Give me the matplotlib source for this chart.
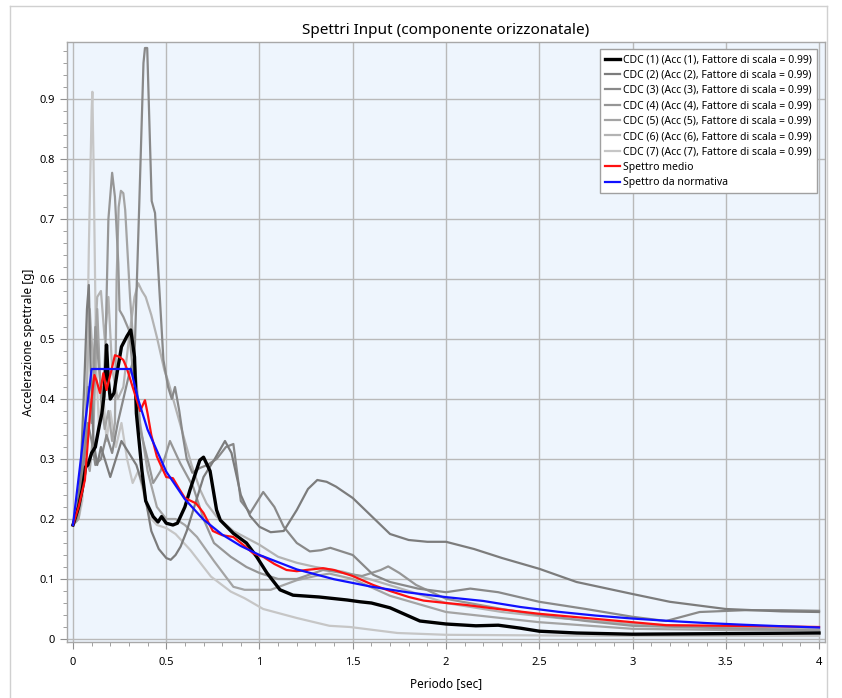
import matplotlib
matplotlib.use("Agg")
import matplotlib.pyplot as plt
from matplotlib.ticker import MultipleLocator
from matplotlib.lines import Line2D

# periods [sec] and spectral accelerations [g]
t1 = [0, 0.03, 0.05, 0.068, 0.08, 0.1, 0.12, 0.14, 0.155, 0.166, 0.175, 0.18, 0.19, 0.2, 0.22, 0.24,
      0.26, 0.29, 0.31, 0.33, 0.34, 0.37, 0.39, 0.43, 0.456, 0.475, 0.5, 0.536, 0.56, 0.6, 0.627, 0.68,
      0.7, 0.735, 0.77, 0.79, 0.86, 0.93, 0.985, 1.04, 1.11, 1.18, 1.32, 1.47, 1.54, 1.6, 1.7, 1.86,
      2.0, 2.16, 2.28, 2.4, 2.5, 2.7, 3.0, 3.5, 4.0]
s1 = [0.19, 0.22, 0.25, 0.287, 0.29, 0.31, 0.32, 0.354, 0.376, 0.404, 0.45, 0.49, 0.43, 0.40, 0.41, 0.45,
      0.487, 0.505, 0.515, 0.47, 0.376, 0.28, 0.23, 0.204, 0.195, 0.204, 0.193, 0.19, 0.193, 0.22, 0.248, 0.298,
      0.303, 0.28, 0.215, 0.198, 0.176, 0.16, 0.137, 0.11, 0.082, 0.073, 0.07, 0.065, 0.062, 0.06, 0.052, 0.03,
      0.025, 0.022, 0.023, 0.018, 0.013, 0.01, 0.008, 0.009, 0.01]

t2 = [0, 0.02, 0.04, 0.06, 0.075, 0.085, 0.095, 0.11, 0.13, 0.15, 0.17, 0.2, 0.23, 0.26, 0.3, 0.34,
      0.38, 0.42, 0.46, 0.5, 0.524, 0.55, 0.577, 0.61, 0.65, 0.7, 0.76, 0.815, 0.85, 0.9, 0.95, 1.0,
      1.06, 1.13, 1.2, 1.26, 1.31, 1.36, 1.41, 1.5, 1.6, 1.7, 1.8, 1.9, 2.0, 2.15, 2.3, 2.5, 2.7, 3.0,
      3.2, 3.5, 3.8, 4.0]
s2 = [0.19, 0.21, 0.27, 0.42, 0.55, 0.59, 0.45, 0.33, 0.29, 0.32, 0.30, 0.27, 0.30, 0.33, 0.31, 0.29,
      0.25, 0.18, 0.15, 0.135, 0.132, 0.14, 0.154, 0.18, 0.22, 0.27, 0.30, 0.33, 0.31, 0.24, 0.205, 0.187,
      0.178, 0.18, 0.215, 0.25, 0.265, 0.262, 0.254, 0.235, 0.205, 0.175, 0.165, 0.162, 0.162, 0.15, 0.135,
      0.117, 0.095, 0.075, 0.062, 0.05, 0.046, 0.045]

t3 = [0, 0.02, 0.04, 0.06, 0.08, 0.1, 0.12, 0.15, 0.18, 0.21, 0.24, 0.27, 0.3, 0.33, 0.355, 0.378,
      0.386, 0.398, 0.422, 0.44, 0.46, 0.485, 0.51, 0.53, 0.547, 0.57, 0.59, 0.61, 0.64, 0.68, 0.72, 0.77,
      0.82, 0.86, 0.9, 0.95, 1.02, 1.08, 1.13, 1.2, 1.27, 1.33, 1.38, 1.45, 1.5, 1.61, 1.7, 1.85, 2.0,
      2.13, 2.28, 2.5, 2.75, 3.0, 3.18, 3.36, 3.6, 3.8, 4.0]
s3 = [0.19, 0.2, 0.24, 0.3, 0.36, 0.33, 0.29, 0.3, 0.34, 0.31, 0.36, 0.40, 0.44, 0.47, 0.72, 0.96,
      0.985, 0.985, 0.73, 0.71, 0.60, 0.465, 0.42, 0.40, 0.42, 0.38, 0.337, 0.30, 0.277, 0.285, 0.29, 0.30,
      0.32, 0.325, 0.23, 0.21, 0.245, 0.22, 0.187, 0.16, 0.146, 0.148, 0.152, 0.145, 0.14, 0.107, 0.095,
      0.084, 0.078, 0.084, 0.078, 0.062, 0.05, 0.037, 0.03, 0.045, 0.048, 0.048, 0.047]

t4 = [0, 0.03, 0.06, 0.08, 0.1, 0.12, 0.14, 0.16, 0.175, 0.19, 0.21, 0.225, 0.243, 0.25, 0.27, 0.3,
      0.327, 0.36, 0.4, 0.43, 0.47, 0.52, 0.575, 0.645, 0.7, 0.756, 0.846, 0.93, 1.0, 1.1, 1.2, 1.34,
      1.45, 1.55, 1.65, 1.69, 1.75, 1.84, 2.0, 2.3, 2.5, 2.75, 3.0, 3.5, 4.0]
s4 = [0.19, 0.22, 0.32, 0.42, 0.36, 0.52, 0.45, 0.38, 0.5, 0.7, 0.777, 0.737, 0.626, 0.548, 0.537, 0.515,
      0.43, 0.35, 0.30, 0.26, 0.28, 0.33, 0.293, 0.253, 0.2, 0.16, 0.137, 0.12, 0.11, 0.10, 0.10, 0.115,
      0.11, 0.105, 0.115, 0.121, 0.11, 0.09, 0.067, 0.05, 0.04, 0.03, 0.022, 0.018, 0.014]

t5 = [0, 0.03, 0.05, 0.07, 0.09, 0.11, 0.13, 0.15, 0.17, 0.19, 0.21, 0.225, 0.234, 0.245, 0.257, 0.27,
      0.28, 0.306, 0.33, 0.36, 0.4, 0.45, 0.5, 0.55, 0.6, 0.665, 0.756, 0.86, 0.92, 1.06, 1.2, 1.3, 1.375,
      1.5, 1.7, 2.0, 2.5, 3.0, 3.5, 4.0]
s5 = [0.19, 0.2, 0.25, 0.3, 0.28, 0.35, 0.55, 0.4, 0.35, 0.38, 0.33, 0.36, 0.6, 0.72, 0.747, 0.743,
      0.715, 0.57, 0.465, 0.36, 0.28, 0.22, 0.2, 0.2, 0.19, 0.17, 0.13, 0.087, 0.082, 0.082, 0.098, 0.105, 0.109,
      0.10, 0.072, 0.045, 0.028, 0.017, 0.015, 0.015]

t6 = [0, 0.03, 0.05, 0.07, 0.09, 0.11, 0.13, 0.15, 0.17, 0.19, 0.21, 0.24, 0.27, 0.3, 0.33, 0.35,
      0.37, 0.39, 0.42, 0.45, 0.49, 0.51, 0.6, 0.636, 0.68, 0.716, 0.77, 0.86, 1.0, 1.1, 1.2, 1.3, 1.45,
      1.61, 1.8, 2.0, 2.3, 2.6, 3.0, 3.5, 4.0]
s6 = [0.19, 0.21, 0.26, 0.38, 0.55, 0.45, 0.57, 0.58, 0.5, 0.57, 0.45, 0.4, 0.42, 0.5, 0.57, 0.593,
      0.58, 0.57, 0.54, 0.503, 0.448, 0.43, 0.33, 0.29, 0.25, 0.226, 0.204, 0.18, 0.157, 0.137, 0.127, 0.12,
      0.112, 0.098, 0.08, 0.06, 0.045, 0.035, 0.025, 0.02, 0.016]

t7 = [0, 0.03, 0.05, 0.07, 0.085, 0.1, 0.104, 0.11, 0.125, 0.14, 0.16, 0.18, 0.2, 0.23, 0.26, 0.29,
      0.32, 0.35, 0.375, 0.41, 0.45, 0.5, 0.55, 0.63, 0.7, 0.74, 0.846, 0.92, 1.02, 1.2, 1.375, 1.485,
      1.74, 2.0, 2.5, 3.0, 4.0]
s7 = [0.19, 0.2, 0.23, 0.35, 0.65, 0.88, 0.912, 0.8, 0.45, 0.35, 0.42, 0.33, 0.38, 0.32, 0.36, 0.30,
      0.26, 0.28, 0.248, 0.204, 0.19, 0.185, 0.175, 0.148, 0.12, 0.104, 0.079, 0.068, 0.05, 0.035, 0.022, 0.02,
      0.01, 0.007, 0.006, 0.005, 0.005]

t_mean = [0, 0.03, 0.064, 0.09, 0.105, 0.115, 0.127, 0.145, 0.163, 0.18, 0.2, 0.225, 0.25, 0.27, 0.29,
          0.31, 0.33, 0.36, 0.386, 0.4, 0.42, 0.45, 0.5, 0.536, 0.57, 0.6, 0.66, 0.7, 0.75, 0.8, 0.86, 0.92,
          0.965, 1.02, 1.08, 1.145, 1.2, 1.25, 1.34, 1.4, 1.5, 1.61, 1.7, 1.8, 1.88, 2.0, 2.1, 2.28, 2.5,
          2.75, 3.0, 3.18, 3.5, 3.8, 4.0]
s_mean = [0.19, 0.22, 0.265, 0.37, 0.415, 0.44, 0.43, 0.41, 0.443, 0.415, 0.44, 0.473, 0.47, 0.465, 0.45,
          0.43, 0.41, 0.38, 0.398, 0.376, 0.34, 0.304, 0.27, 0.268, 0.25, 0.235, 0.226, 0.21, 0.18, 0.173, 0.17,
          0.155, 0.143, 0.137, 0.125, 0.115, 0.113, 0.115, 0.118, 0.115, 0.105, 0.09, 0.08, 0.07, 0.064, 0.06,
          0.057, 0.05, 0.042, 0.035, 0.028, 0.023, 0.022, 0.021, 0.02]

t_norm = [0, 0.1, 0.31, 0.35, 0.4, 0.5, 0.6, 0.7, 0.8, 0.9, 1.0, 1.2, 1.4, 1.6, 1.8, 2.0, 2.2, 2.4,
          2.6, 2.8, 3.0, 3.2, 3.4, 3.6, 3.8, 4.0]
s_norm = [0.19, 0.45, 0.45, 0.399, 0.349, 0.279, 0.233, 0.199, 0.174, 0.155, 0.14, 0.116, 0.0996, 0.0872,
          0.0775, 0.0698, 0.0634, 0.0533, 0.0454, 0.0391, 0.0341, 0.030, 0.0265, 0.0237, 0.0213, 0.0192]

labels = ["CDC (%d) (Acc (%d), Fattore di scala = 0.99)" % (i, i) for i in range(1, 8)]
x_ticks = [0, 0.5, 1, 1.5, 2, 2.5, 3, 3.5, 4]
x_ticklabels = ["0", "0.5", "1", "1.5", "2", "2.5", "3", "3.5", "4"]
y_ticks = [0, 0.1, 0.2, 0.3, 0.4, 0.5, 0.6, 0.7, 0.8, 0.9]
y_ticklabels = ["0", "0.1", "0.2", "0.3", "0.4", "0.5", "0.6", "0.7", "0.8", "0.9"]

plt.rcParams['font.family'] = ['Noto Sans', 'DejaVu Sans']

W, H = 842, 698
fig = plt.figure(figsize=(W / 100, H / 100), dpi=100)
fig.patch.set_facecolor('white')

# axes box in pixel units of the reference
left, right, top, bottom = 67, 825, 42, 642
ax = fig.add_axes([left / W, 1 - bottom / H, (right - left) / W, (bottom - top) / H])
ax.set_facecolor('#eef5fd')

grays = ['#000000', '#7c7c7c', '#898989', '#969696', '#a4a4a4', '#b3b3b3', '#c6c6c6']
series = [(t1, s1), (t2, s2), (t3, s3), (t4, s4), (t5, s5), (t6, s6), (t7, s7)]
handles = []
for i in range(6, -1, -1):
    t, s = series[i]
    lw = 2.4 if i == 0 else 1.6
    ax.plot(t, s, color=grays[i], lw=lw, zorder=3 + (7 - i) * 0.1, solid_joinstyle='round')
for i in range(7):
    handles.append(Line2D([], [], color=grays[i], lw=2.4 if i == 0 else 1.6))
ax.plot(t_mean, s_mean, color='#ff1010', lw=1.6, zorder=5)
ax.plot(t_norm, s_norm, color='#1010ff', lw=1.6, zorder=6)
handles.append(Line2D([], [], color='#ff1010', lw=1.6))
handles.append(Line2D([], [], color='#1010ff', lw=1.6))

ax.set_xlim(-0.032, 4.032)
ax.set_ylim(-0.005, 0.995)
ax.set_xticks(x_ticks)
ax.set_xticklabels(x_ticklabels)
ax.set_yticks(y_ticks)
ax.set_yticklabels(y_ticklabels)
ax.xaxis.set_minor_locator(MultipleLocator(0.1))
ax.yaxis.set_minor_locator(MultipleLocator(0.02))
ax.grid(True, which='major', color='#b9b9b9', lw=1.0, zorder=1)
ax.set_axisbelow(True)
ax.tick_params(axis='x', which='major', pad=6)
ax.tick_params(which='major', length=5, color='#909090', labelsize=8)
ax.tick_params(which='minor', length=3, color='#909090')
for sp in ax.spines.values():
    sp.set_color('#a8a8a8')
    sp.set_linewidth(1.0)

ax.set_title('Spettri Input (componente orizzonatale)', fontsize=11, pad=6)
ax.set_xlabel('Periodo [sec]', fontsize=8.5)
ax.set_ylabel('Accelerazione spettrale [g]', fontsize=8.5)
ax.xaxis.set_label_coords(0.5, -0.058)
ax.yaxis.set_label_coords(-0.042, 0.5)

leg = ax.legend(handles, labels + ['Spettro medio', 'Spettro da normativa'],
                loc='upper right', bbox_to_anchor=(817 / W, 1 - 49 / H),
                bbox_transform=fig.transFigure, borderaxespad=0, fontsize=7.5,
                handlelength=1.4, handletextpad=0.3, labelspacing=0.42,
                fancybox=False, framealpha=1, edgecolor='#a0a0a0', borderpad=0.5)
leg.get_frame().set_linewidth(1.0)
leg.set_zorder(10)

# outer panel border
fig.add_artist(Line2D([10 / W, 10 / W], [0, 1 - 6 / H], color='#d0d0d0', lw=1.0))
fig.add_artist(Line2D([10 / W, 827 / W], [1 - 6 / H, 1 - 6 / H], color='#d0d0d0', lw=1.0))
fig.add_artist(Line2D([827 / W, 827 / W], [0, 1 - 6 / H], color='#d0d0d0', lw=1.0))

fig.savefig('out.png', dpi=100)
